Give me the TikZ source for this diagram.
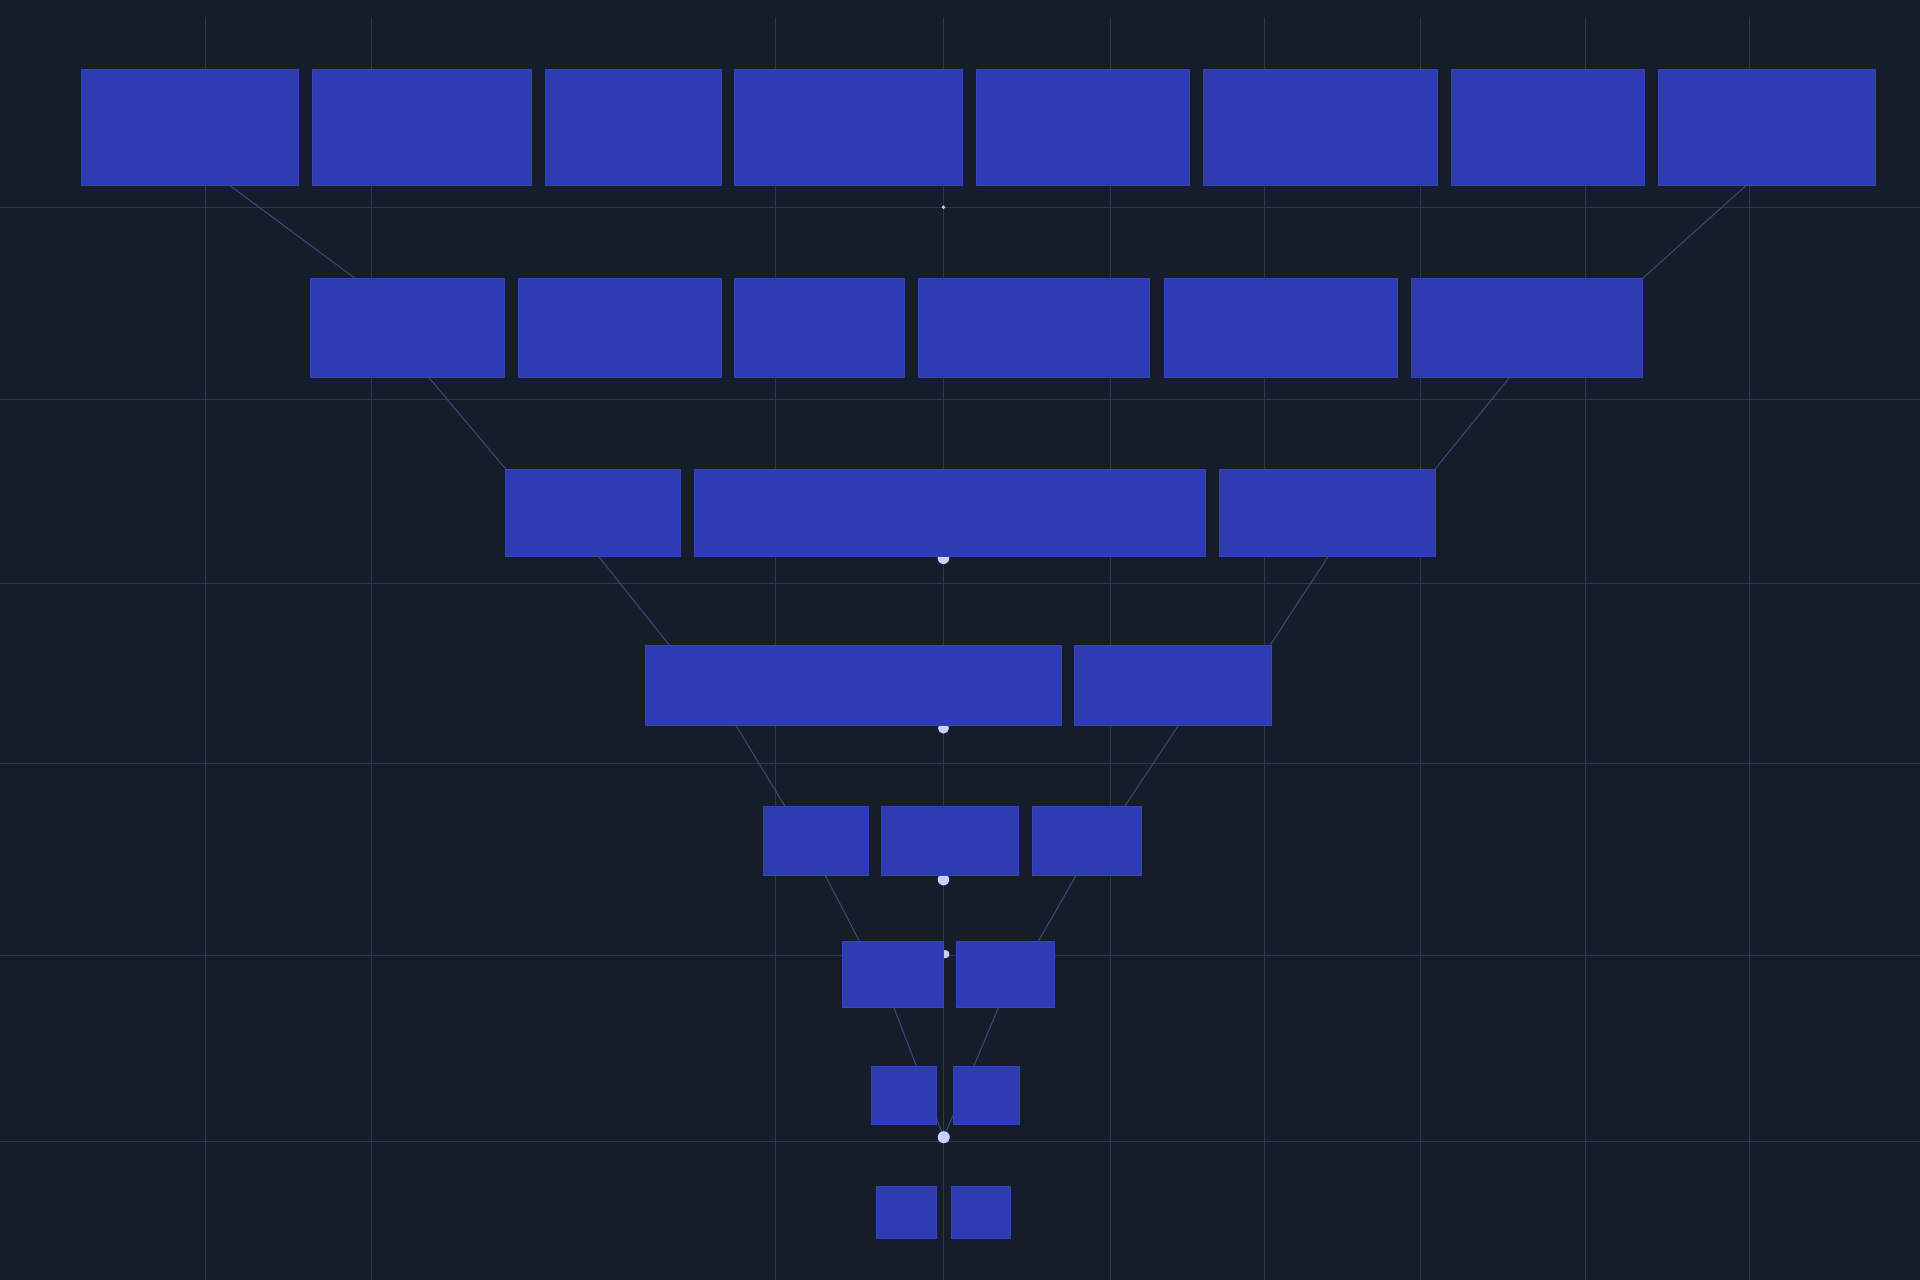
\documentclass[tikz,border=0pt]{standalone}
\usetikzlibrary{calc}
\definecolor{bgc}{HTML}{151C2A}
\definecolor{gridc}{HTML}{2C3658}
\definecolor{linkc}{HTML}{3B4775}
\definecolor{boxc}{HTML}{2D3CB2}
\definecolor{boxe}{HTML}{3545BA}
\definecolor{dotc}{HTML}{C9D0FA}
\pgfdeclarelayer{back}
\pgfdeclarelayer{bg}
\pgfsetlayers{back,bg,main}
\tikzset{
  blk/.style={fill=boxc, draw=boxe, line width=0.5pt, inner sep=0pt, outer sep=0pt, anchor=north west},
  gridln/.style={draw=gridc, line width=0.9pt},
  link/.style={draw=linkc, line width=0.9pt},
  jdot/.style={circle, fill=dotc, inner sep=0pt, outer sep=0pt, minimum size=#1},
}
\newcommand\bx[5]{\node[blk, minimum width={#4-#2}, minimum height={#5-#3}] (#1) at (#2,#3) {};}
\begin{document}
\begin{tikzpicture}[x=1pt,y=-1pt]
\useasboundingbox (0,0) rectangle (1568,1045);
\begin{pgfonlayer}{back}
\fill[bgc] (0,0) rectangle (1568,1045);
\end{pgfonlayer}
% row 1
\bx{r1a}{66}{56.7}{243.5}{151}
\bx{r1b}{255}{56.7}{433.5}{151}
\bx{r1c}{445}{56.7}{589}{151}
\bx{r1d}{600}{56.7}{786}{151}
\bx{r1e}{797}{56.7}{971.5}{151}
\bx{r1f}{983}{56.7}{1173.5}{151}
\bx{r1g}{1185}{56.7}{1343}{151}
\bx{r1h}{1354.5}{56.7}{1531.5}{151}
% row 2
\bx{r2a}{253.5}{227.3}{411.5}{308}
\bx{r2b}{423}{227.3}{589}{308}
\bx{r2c}{600}{227.3}{738.5}{308}
\bx{r2d}{750}{227.3}{938.5}{308}
\bx{r2e}{950.5}{227.3}{1141}{308}
\bx{r2f}{1152.5}{227.3}{1341.5}{308}
% row 3
\bx{r3a}{413}{383}{555.5}{454}
\bx{r3b}{567}{383}{984}{454}
\bx{r3c}{995.5}{383}{1172}{454}
% row 4
\bx{r4a}{527}{527.3}{866.5}{592.4}
\bx{r4b}{877.4}{527.3}{1038.3}{592.4}
% row 5
\bx{r5a}{623}{658.4}{709.4}{714.7}
\bx{r5b}{719.9}{658.4}{831.6}{714.7}
\bx{r5c}{842.9}{658.4}{932}{714.7}
% row 6
\bx{r6a}{687.6}{768.7}{770.5}{822.7}
\bx{r6b}{781}{768.7}{861.3}{822.7}
% row 7
\bx{r7a}{711.6}{871}{764.9}{918.4}
\bx{r7b}{778.8}{871}{832.4}{918.4}
% row 8
\bx{r8a}{716}{968.4}{764.5}{1011}
\bx{r8b}{776.5}{968.4}{824.9}{1011}
\begin{pgfonlayer}{bg}
% grid
\foreach \gx in {168,303.5,633.5,770.5,907,1033,1160,1295,1429}
  \draw[gridln] (\gx,14) -- (\gx,1045);
\foreach \gy in {169.3,326,476.7,623.7,780,932}
  \draw[gridln] (0,\gy) -- (1568,\gy);
% dots
\node[jdot=3pt] (d0) at (770.5,169.3) {};
\node[jdot=9.6pt] (d1) at (770.5,455.8) {};
\node[jdot=9pt] (d2) at (770.5,594.6) {};
\node[jdot=9.4pt] (d3) at (770.5,718.3) {};
\node[jdot=6.8pt] (d4) at (772,779.2) {};
\node[jdot=9.6pt] (d5) at (770.7,928.7) {};
% connectors
\draw[link] ([xshift=121pt]r1a.south west) -- ([xshift=36.5pt]r2a.north west);
\draw[link] ([xshift=72pt]r1h.south west) -- (r2f.north east);
\draw[link] ([xshift=96.5pt]r2a.south west) -- (r3a.north west);
\draw[link] ([xshift=80.5pt]r2f.south west) -- (r3c.north east);
\draw[link] ([xshift=75.5pt]r3a.south west) -- ([xshift=20pt]r4a.north west);
\draw[link] ([xshift=89.5pt]r3c.south west) -- ([xshift=-1.3pt]r4b.north east);
\draw[link] ([xshift=74pt]r4a.south west) -- ([xshift=18pt]r5a.north west);
\draw[link] ([xshift=85pt]r4b.south west) -- ([xshift=75.7pt]r5c.north west);
\draw[link] ([xshift=50.8pt]r5a.south west) -- ([xshift=14.3pt]r6a.north west);
\draw[link] ([xshift=36pt]r5c.south west) -- ([xshift=67pt]r6b.north west);
\draw[link] ([xshift=42.4pt]r6a.south west) -- (d5.center);
\draw[link] ([xshift=34.5pt]r6b.south west) -- (d5.center);
\node[jdot=9.6pt] at (d5) {};
\end{pgfonlayer}
\end{tikzpicture}
\end{document}
